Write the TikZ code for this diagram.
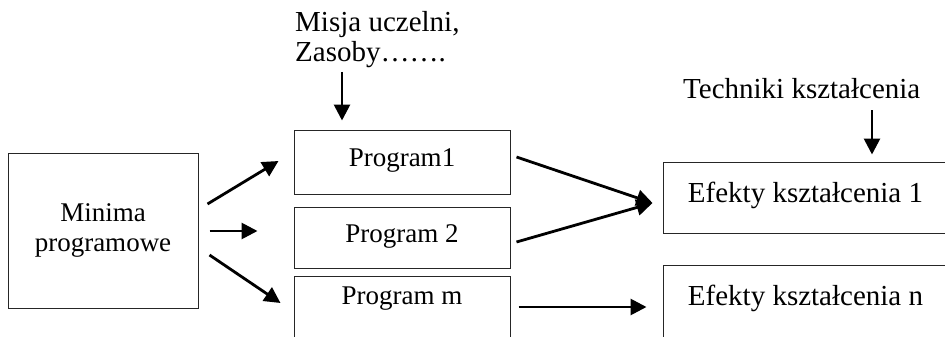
\documentclass[tikz,border=0pt]{standalone}
\usepackage{fontspec}
\setmainfont{Liberation Serif}
\usetikzlibrary{arrows.meta}

\begin{document}
\begin{tikzpicture}[x=1pt,y=-1pt,
  box/.style={draw=black!85, line width=1pt, inner xsep=0pt, inner ysep=0pt,
              font=\fontsize{27}{30}\selectfont},
  bigbox/.style={box, font=\fontsize{29}{30}\selectfont},
  lbl/.style={inner sep=0pt, font=\fontsize{29}{30}\selectfont},
  arr/.style={line width=2.8pt, -{Triangle[length=16pt,width=16pt]}}
]
\useasboundingbox (0,0) rectangle (945,337);

% left block
\node[box, minimum width=190pt, minimum height=155pt, align=center] (minima)
  at (103,230.5) {Minima\\programowe};

% programme blocks
\node[box, minimum width=216pt, text height=36pt, text depth=28pt] (prog1)
  at (402,162) {Program1};
\node[box, minimum width=216pt, text height=35pt, text depth=26pt] (prog2)
  at (402,237.5) {Program 2};
\node[box, minimum width=216pt, text height=28pt, text depth=46pt] (progm)
  at (402,313) {Program m};

% outcome blocks
\node[bigbox, minimum width=285pt, text height=40pt, text depth=31pt] (ef1)
  at (805.5,197.5) {Efekty kształcenia 1};
\node[bigbox, minimum width=285pt, text height=40pt, text depth=45pt] (efn)
  at (805.5,307.5) {Efekty kształcenia n};

% labels above (base anchor sits on the last line)
\node[lbl, align=left, anchor=base west] (misja) at (295,62)
  {Misja uczelni,\\Zasoby…….};
\node[lbl, anchor=base west] (techniki) at (683,98) {Techniki kształcenia};

\coordinate (misjaout) at (342,72);
\coordinate (technikiout) at (872,110);

% connectors
\draw[arr] ([shift={(9,-26.5)}]minima.east) -- ([shift={(-15,-1)}]prog1.west);
\draw[arr] ([shift={(11,0.5)}]minima.east) -- ([shift={(-36,-6.5)}]prog2.west);
\draw[arr] ([shift={(11,24.5)}]minima.east) -- ([shift={(-13,-10)}]progm.west);

\draw[arr] ([shift={(6,-5)}]prog1.east) -- ([shift={(-10,5.5)}]ef1.west);
\draw[arr] ([shift={(6,4.5)}]prog2.east) -- ([shift={(-10,5.5)}]ef1.west);
\draw[arr] ([shift={(8,-6)}]progm.east) -- ([shift={(-16,-0.5)}]efn.west);

\draw[arr] (misjaout) -- ([shift={(-60,-9)}]prog1.north);
\draw[arr] (technikiout) -- ([shift={(66.5,-7)}]ef1.north);
\end{tikzpicture}
\end{document}
